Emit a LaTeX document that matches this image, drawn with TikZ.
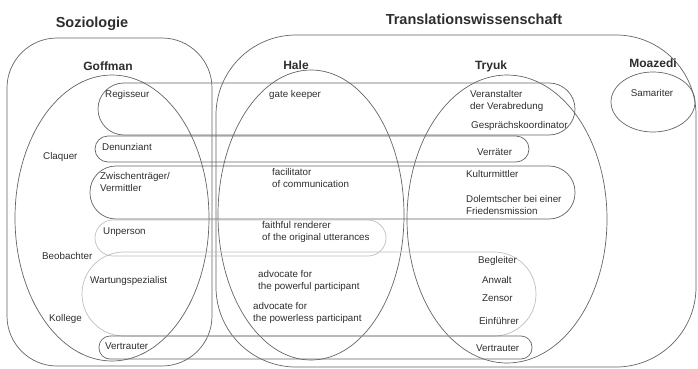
\documentclass[tikz,border=0pt]{standalone}
\usepackage{fontspec}
\setmainfont{Liberation Sans}
\usepackage{xcolor}
\definecolor{linegray}{RGB}{100,100,100}
\definecolor{palegray}{RGB}{190,190,190}
\definecolor{textgray}{RGB}{45,45,45}

\begin{document}
\begin{tikzpicture}[x=1pt, y=-1pt,
    area/.style={draw=linegray, line width=0.7pt},
    band/.style={draw=linegray, line width=0.7pt},
    paleband/.style={draw=palegray, line width=0.7pt},
    lbl/.style={text=textgray, font=\fontsize{9.8}{12.5}\selectfont, inner sep=0pt, anchor=west, align=left},
    field/.style={text=textgray, font=\fontsize{14.5}{16}\selectfont\bfseries, inner sep=0pt},
    author/.style={text=textgray, font=\fontsize{12}{14}\selectfont\bfseries, inner sep=0pt}]
    \useasboundingbox (0,0) rectangle (698,369);

    % fields
    \draw[area, rounded corners=50pt] (7,38) rectangle (212,366);
    \draw[area, rounded corners=80pt] (216,35) rectangle (696,367);
    \node[field] (soz) at (92,24) {Soziologie};
    \node[field] (trans) at (474,19) {Translationswissenschaft};

    % authors
    \draw[area] (112,218) ellipse [x radius=97pt, y radius=143pt];
    \draw[area] (311,215) ellipse [x radius=93pt, y radius=145pt];
    \draw[area] (507,219) ellipse [x radius=100pt, y radius=144pt];
    \draw[area] (653,102) ellipse [x radius=42pt, y radius=30pt];
    \node[author] (goffman) at (108,66) {Goffman};
    \node[author] (hale) at (296,65) {Hale};
    \node[author] (tryuk) at (491,66) {Tryuk};
    \node[author] (moazedi) at (653,63) {Moazedi};

    % role bands
    \draw[band, rounded corners=26pt] (98,83) rectangle (575,135);
    \draw[band, rounded corners=13pt] (95,136) rectangle (529,162);
    \draw[band, rounded corners=26pt] (90,166) rectangle (575,219);
    \draw[paleband, rounded corners=18pt] (95,220) rectangle (386,256);
    \draw[paleband, rounded corners=42pt] (82,252) rectangle (536,336);
    \draw[band, rounded corners=11pt] (99,336) rectangle (532,359);

    % Goffman roles
    \node[lbl] (regisseur) at (105,95) {Regisseur};
    \node[lbl] (denunziant) at (102,147) {Denunziant};
    \node[lbl] (claquer) at (43,157) {Claquer};
    \node[lbl] (zwischen) at (100,182) {Zwischenträger/\\Vermittler};
    \node[lbl] (unperson) at (103,232) {Unperson};
    \node[lbl] (beobachter) at (42,256) {Beobachter};
    \node[lbl] (wartung) at (90,281) {Wartungspezialist};
    \node[lbl] (kollege) at (49,319) {Kollege};
    \node[lbl] (vertrauterG) at (105,346) {Vertrauter};

    % Hale roles
    \node[lbl] (gatekeeper) at (269,95) {gate keeper};
    \node[lbl] (facilitator) at (272,178) {facilitator\\of communication};
    \node[lbl] (faithful) at (262,232) {faithful renderer\\of the original utterances};
    \node[lbl] (powerful) at (258,281) {advocate for\\the powerful participant};
    \node[lbl] (powerless) at (253,313) {advocate for\\the powerless participant};

    % Tryuk roles
    \node[lbl] (veranstalter) at (470,101) {Veranstalter\\der Verabredung};
    \node[lbl] (koordinator) at (471,126) {Gesprächskoordinator};
    \node[lbl] (verraeter) at (477,152) {Verräter};
    \node[lbl] (kultur) at (466,174) {Kulturmittler};
    \node[lbl] (dolmetscher) at (466,205) {Dolemtscher bei einer\\Friedensmission};
    \node[lbl] (begleiter) at (478,261) {Begleiter};
    \node[lbl] (anwalt) at (482,280) {Anwalt};
    \node[lbl] (zensor) at (482,298) {Zensor};
    \node[lbl] (einfuehrer) at (479,321) {Einführer};
    \node[lbl] (vertrauterT) at (476,348) {Vertrauter};

    % Moazedi role
    \node[lbl, anchor=center] (samariter) at (652,93) {Samariter};
\end{tikzpicture}
\end{document}
